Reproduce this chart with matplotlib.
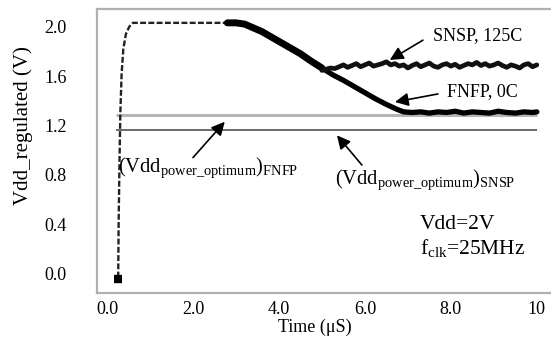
import matplotlib
matplotlib.use("Agg")
import matplotlib.pyplot as plt
import numpy as np

plt.rcParams['font.family'] = ['Liberation Serif', 'DejaVu Serif']
plt.rcParams['mathtext.fontset'] = 'custom'
plt.rcParams['mathtext.rm'] = 'Liberation Serif'
plt.rcParams['mathtext.it'] = 'Liberation Serif:italic'

# ---- data ----
rise_t = [0.26, 0.27, 0.29, 0.31, 0.34, 0.38, 0.44, 0.52, 0.60, 1.0, 1.5, 2.0, 2.5, 2.8]
rise_v = [-0.03, 0.40, 0.90, 1.30, 1.62, 1.82, 1.94, 2.00, 2.03, 2.03, 2.03, 2.03, 2.03, 2.03]

start_t = [0.17, 0.35]
start_v = [-0.045, -0.045]

desc_t = [2.8, 3.0, 3.2, 3.4, 3.6, 3.8, 4.0, 4.25, 4.5, 4.75, 5.0]
desc_v = [2.03, 2.03, 2.02, 1.99, 1.96, 1.92, 1.88, 1.83, 1.78, 1.72, 1.665]

fnfp_t = [5.0, 5.25, 5.5, 5.75, 6.0, 6.25, 6.5, 6.75, 6.9,
          7.1, 7.3, 7.5, 7.7, 7.9, 8.1, 8.3, 8.5, 8.7, 8.9, 9.1, 9.3, 9.5, 9.7, 9.9, 10.0]
fnfp_v = [1.665, 1.61, 1.565, 1.515, 1.465, 1.415, 1.37, 1.33, 1.31,
          1.305, 1.31, 1.30, 1.31, 1.305, 1.315, 1.30, 1.31, 1.305, 1.30, 1.315, 1.305, 1.30, 1.31, 1.305, 1.31]

snsp_t = [5.0, 5.1, 5.2, 5.3, 5.4, 5.5, 5.6, 5.7, 5.8, 5.9, 6.0, 6.1, 6.2, 6.3, 6.4, 6.5,
          6.6, 6.7, 6.8, 6.9, 7.0, 7.1, 7.2, 7.3, 7.4, 7.5, 7.6, 7.7, 7.8, 7.9, 8.0, 8.1,
          8.2, 8.3, 8.4, 8.5, 8.6, 8.7, 8.8, 8.9, 9.0, 9.1, 9.2, 9.3, 9.4, 9.5, 9.6, 9.7,
          9.8, 9.9, 10.0]
snsp_v = [1.645, 1.655, 1.665, 1.660, 1.675, 1.690, 1.670, 1.685, 1.700, 1.675, 1.690,
          1.705, 1.680, 1.690, 1.700, 1.715, 1.690, 1.700, 1.680, 1.690, 1.665, 1.685,
          1.700, 1.675, 1.690, 1.705, 1.680, 1.670, 1.690, 1.700, 1.680, 1.695, 1.670,
          1.685, 1.700, 1.690, 1.710, 1.685, 1.700, 1.680, 1.690, 1.705, 1.685, 1.670,
          1.690, 1.680, 1.665, 1.690, 1.700, 1.675, 1.690]

opt_t = [0.2, 10.0]
opt_fnfp = 1.285
opt_snsp = 1.163

xticks = [0, 2, 4, 6, 8, 10]
xticklabels = ['0.0', '2.0', '4.0', '6.0', '8.0', '10']
yticks = [0.0, 0.4, 0.8, 1.2, 1.6, 2.0]
yticklabels = ['0.0', '0.4', '0.8', '1.2', '1.6', '2.0']

# ---- figure ----
fig = plt.figure(figsize=(5.51, 3.37), dpi=100)
ax = fig.add_axes([97/551, 44/337, 454/551, 284/337])

ax.plot(opt_t, [opt_fnfp]*2, color='#b5b5b5', lw=2.2, solid_capstyle='butt')
ax.plot(opt_t, [opt_snsp]*2, color='#505050', lw=1.2, solid_capstyle='butt')

ax.plot(rise_t, rise_v, color='#222222', lw=1.7, ls=(0, (2.5, 1)))
ax.plot(start_t, start_v, color='k', lw=6, solid_capstyle='butt')
ax.plot(desc_t, desc_v, color='k', lw=5, solid_capstyle='round')
ax.plot(fnfp_t, fnfp_v, color='k', lw=3.8, solid_capstyle='round')
ax.plot(snsp_t, snsp_v, color='#111111', lw=3.4, solid_capstyle='round')

ax.set_xlim(-0.233, 10.33)
ax.set_ylim(-0.155, 2.142)

ax.set_xticks(xticks)
ax.set_xticklabels(xticklabels, fontsize=13)
ax.set_yticks(yticks)
ax.set_yticklabels(yticklabels, fontsize=13)
ax.tick_params(axis='both', length=0)
ax.tick_params(axis='y', pad=22)
ax.tick_params(axis='x', pad=6)

for s in ['left', 'top', 'bottom']:
    ax.spines[s].set_color('#b0b0b0')
    ax.spines[s].set_linewidth(1.6)
ax.spines['right'].set_visible(False)

ax.set_ylabel('Vdd_regulated (V)', fontsize=15)
ax.yaxis.set_label_coords(-0.141, 0.59)
ax.set_xlabel('Time (\u03bcS)', fontsize=13)
ax.xaxis.set_label_coords(0.48, -0.092)

ap = dict(arrowstyle='-|>', color='k', lw=1.2, mutation_scale=20, shrinkA=0, shrinkB=0)

ax.text(7.58, 1.93, 'SNSP, 125C', fontsize=13, va='center', ha='left')
ax.annotate('', xy=(6.58, 1.73), xytext=(7.35, 1.89), arrowprops=ap)

ax.text(7.91, 1.47, 'FNFP, 0C', fontsize=13, va='center', ha='left')
ax.annotate('', xy=(6.70, 1.39), xytext=(7.70, 1.455), arrowprops=ap)

ax.annotate('', xy=(2.74, 1.23), xytext=(2.0, 0.94), arrowprops=ap)
ax.text(0.26, 0.86, r'(Vdd$_{\mathrm{power\_optimum}}$)$_{\mathrm{FNFP}}$',
        fontsize=14.8, va='center', ha='left')

ax.annotate('', xy=(5.35, 1.12), xytext=(5.93, 0.88), arrowprops=ap)
ax.text(5.3, 0.76, r'(Vdd$_{\mathrm{power\_optimum}}$)$_{\mathrm{SNSP}}$',
        fontsize=14.8, va='center', ha='left')

ax.text(7.28, 0.395, 'Vdd=2V', fontsize=15.5, va='center', ha='left')
ax.text(7.28, 0.21, r'f$_{\mathrm{clk}}$=25MHz', fontsize=15.5, va='center', ha='left')

fig.savefig('out.png', dpi=100)
